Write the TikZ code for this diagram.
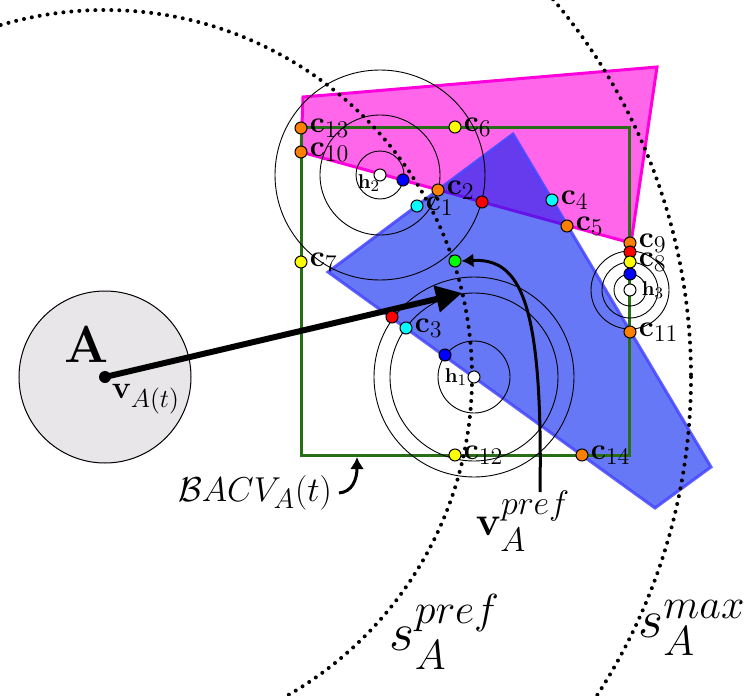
\RequirePackage{fix-cm}
\documentclass[tikz,border=0pt]{standalone}
\usepackage{amsmath,amssymb}
\usepackage{tikz}
\usetikzlibrary{arrows.meta}
\definecolor{boxgreen}{RGB}{40,110,20}
\definecolor{polymag}{RGB}{255,0,220}
\definecolor{polyblue}{RGB}{0,30,240}
\definecolor{polyedge}{RGB}{70,70,255}
\definecolor{agentgray}{RGB}{232,230,232}
\definecolor{dotorange}{RGB}{255,128,0}
\definecolor{dotcyan}{RGB}{0,255,255}
\definecolor{dotyellow}{RGB}{255,255,0}
\definecolor{dotgreen}{RGB}{0,255,0}
\definecolor{dotblue}{RGB}{0,0,255}
\definecolor{dotred}{RGB}{255,0,0}
\DeclareMathSizes{10}{10}{8}{6}
\DeclareMathSizes{15}{15}{12}{9}
\DeclareMathSizes{16}{16}{13}{10}
\DeclareMathSizes{17.28}{17.28}{14}{10}
\DeclareMathSizes{20.74}{20.74}{17}{12}
\DeclareMathSizes{27}{27}{21}{15}
\tikzset{
  pt/.style={circle,draw,line width=0.5pt,inner sep=0pt,minimum size=6pt},
  clbl/.style={font=\fontsize{15}{18}\selectfont,inner sep=0.5pt,label distance=0.5pt},
  hlbl/.style={font=\fontsize{10}{12}\selectfont,inner sep=0.5pt},
  ring/.style={line width=0.45pt},
  horizon/.style={line width=2pt,dash pattern=on 0pt off 4pt,line cap=round},
  curvy/.style={line width=1.5pt,-{Latex[length=6pt,width=7pt]}},
}

\begin{document}
\begin{tikzpicture}[x=0.5pt,y=-0.5pt]
\useasboundingbox (0,0) rectangle (745,696);
\clip (0,0) rectangle (745,696);
% agent A
\node[circle,draw,fill=agentgray,line width=0.5pt,minimum size=86pt] (agentA) at (105,377) {};
\node[font=\fontsize{26}{30}\selectfont\bfseries] (lblA) at (87,344) {A};
% obstacles
\path[fill=polymag,fill opacity=0.6,draw=polymag,line width=1.5pt] (303,97) -- (657,67) -- (631,243) -- (301,152) -- cycle;
\path[fill=polyblue,fill opacity=0.6,draw=polyedge,draw opacity=0.85,line width=1.5pt] (328,272) -- (513,134) -- (711,467) -- (655,508) -- cycle;
% bounding box of candidate velocities
\draw[boxgreen,line width=1.5pt] (301,127) rectangle (629,455);
% rings around the hubs
\coordinate (hub1) at (474,377);
\coordinate (hub2) at (380,175);
\coordinate (hub3) at (630,290);
\draw[ring] (hub2) circle (24) (hub2) circle (60) (hub2) circle (105);
\draw[ring] (hub1) circle (36) (hub1) circle (84) (hub1) circle (100);
\draw[ring] (hub3) circle (16) (hub3) circle (28) (hub3) circle (39);
% speed limits
\draw[horizon] (agentA.center) circle (367);
\draw[horizon] (agentA.center) circle (586);
% current velocity
\node[circle,fill=black,inner sep=0pt,minimum size=6pt] (vA) at (105,377) {};
\coordinate (vAtip) at (462,293);
\draw[line width=3pt,-{Triangle[length=13pt,width=13pt]}] (vA.center) -- (vAtip);
\node[font=\fontsize{16}{19}\selectfont] (vAlbl) at (146,399) {$\mathbf{v}_{A(t)}$};
% candidate points
\node[pt,fill=dotorange,label={[clbl]right:$\mathbf{c}_{13}$}] (c13) at (301,128) {};
\node[pt,fill=dotorange,label={[clbl]right:$\mathbf{c}_{10}$}] (c10) at (301,152) {};
\node[pt,fill=dotyellow,label={[clbl]right:$\mathbf{c}_{6}$}] (c6) at (455,127) {};
\node[pt,fill=dotblue] (b2) at (403,180) {};
\node[pt,fill=dotorange,label={[clbl]right:$\mathbf{c}_{2}$}] (c2) at (438,190) {};
\node[pt,fill=dotcyan,label={[clbl]right:$\mathbf{c}_{1}$}] (c1) at (417,206) {};
\node[pt,fill=dotred] (r2) at (482,202) {};
\node[pt,fill=dotcyan,label={[clbl]right:$\mathbf{c}_{4}$}] (c4) at (552,200) {};
\node[pt,fill=dotorange,label={[clbl]right:$\mathbf{c}_{5}$}] (c5) at (567,226) {};
\node[pt,fill=dotorange,label={[clbl]right:$\mathbf{c}_{9}$}] (c9) at (630,243) {};
\node[pt,fill=dotred] (r3) at (630,252) {};
\node[pt,fill=dotyellow,label={[clbl]right:$\mathbf{c}_{8}$}] (c8) at (630,262) {};
\node[pt,fill=dotblue] (b3) at (630,274) {};
\node[pt,fill=dotyellow,label={[clbl]right:$\mathbf{c}_{7}$}] (c7) at (301,262) {};
\node[pt,fill=dotgreen] (vpref) at (455,261) {};
\node[pt,fill=dotred] (r1) at (392,317) {};
\node[pt,fill=dotcyan,label={[clbl]right:$\mathbf{c}_{3}$}] (c3) at (406,328) {};
\node[pt,fill=dotblue] (b1) at (445,355) {};
\node[pt,fill=dotorange,label={[clbl]right:$\mathbf{c}_{11}$}] (c11) at (630,332) {};
\node[pt,fill=dotyellow,label={[clbl]right:$\mathbf{c}_{12}$}] (c12) at (455,455) {};
\node[pt,fill=dotorange,label={[clbl]right:$\mathbf{c}_{14}$}] (c14) at (582,455) {};
\node[pt,fill=white,label={[hlbl,xshift=0.5pt]left:$\mathbf{h}_1$}] (h1) at (hub1) {};
\node[pt,fill=white,label={[hlbl,xshift=4pt,yshift=-4pt]left:$\mathbf{h}_2$}] (h2) at (hub2) {};
\node[pt,fill=white,label={[hlbl,xshift=2pt]right:$\mathbf{h}_3$}] (h3) at (hub3) {};
% annotations
\node[font=\LARGE] (bacv) at (255,493) {$\mathcal{B}ACV_A(t)$};
\coordinate (bacvtip) at (357,457);
\draw[curvy] (bacv.east) .. controls (352,492) and (357,480) .. (bacvtip);
\node[font=\huge] (vpreflbl) at (523,521) {$\mathbf{v}_A^{pref}$};
\coordinate (vprefstart) at (540,492);
\draw[curvy] (vprefstart) .. controls (543,300) and (520,258) .. (vpref.east);
\node[font=\fontsize{27}{32}\selectfont] (spref) at (445,632) {$s_A^{pref}$};
\node[font=\fontsize{27}{32}\selectfont] (smax) at (692,628) {$s_A^{max}$};
\end{tikzpicture}
\end{document}
